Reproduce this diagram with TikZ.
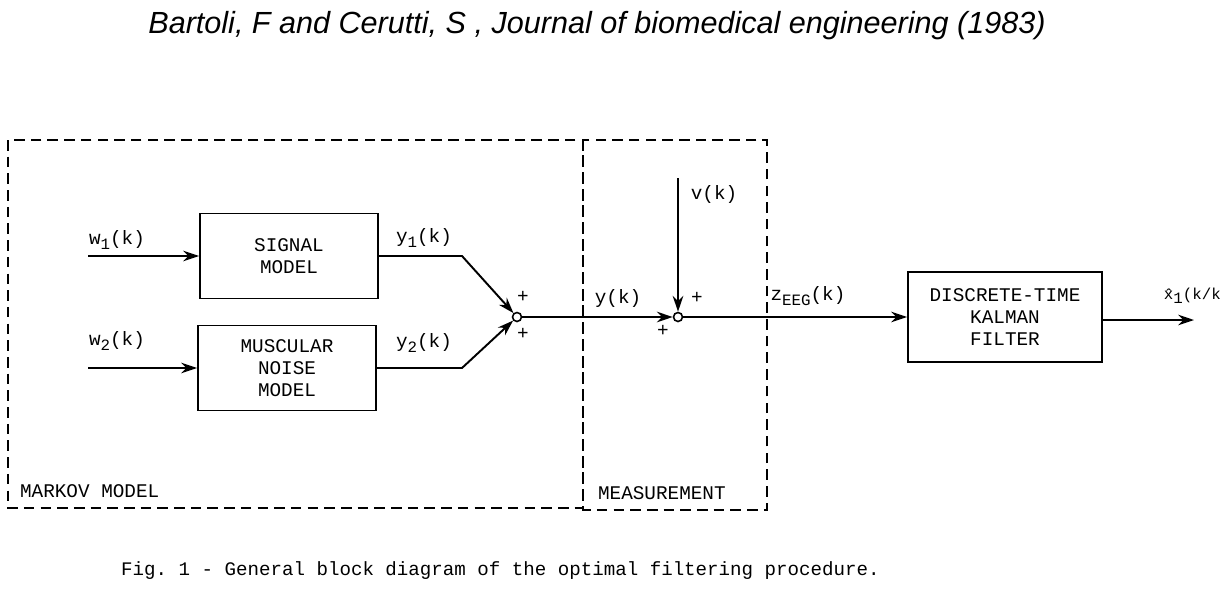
\documentclass[tikz,border=0pt]{standalone}
\usepackage{fontspec}
\setmainfont{Liberation Sans}
\setmonofont{Liberation Mono}
\usetikzlibrary{positioning,arrows.meta}
\newcommand\lowr[1]{\raisebox{-0.45ex}{\fontsize{9}{10}\selectfont #1}}
\newcommand\tw{\ttfamily\fontsize{11}{12.5}\selectfont}

\begin{document}
\begin{tikzpicture}[x=0.02cm,y=-0.02cm,
    block/.style={draw,line width=1.1pt,minimum width=3.56cm,minimum height=1.7cm,align=center,font=\tw},
    junc/.style={draw,circle,line width=0.9pt,inner sep=0pt,minimum size=0.18cm},
    zone/.style={line width=1.1pt,dash pattern=on 6pt off 3.5pt},
    lbl/.style={font=\tw,inner sep=1pt},
    flow/.style={line width=1.1pt,-{Stealth[length=9pt,width=6pt]}}]
    \useasboundingbox (0,0) rectangle (1224,599);
    % title and caption
    \node (title) at (597,26) {\fontsize{17.4}{20}\selectfont\itshape Bartoli, F and Cerutti, S , Journal of biomedical engineering (1983)};
    \node[anchor=west,font=\ttfamily\fontsize{10.9}{12}\selectfont] (caption) at (115,571) {Fig. 1 - General block diagram of the optimal filtering procedure.};
    % dashed regions
    \draw[zone] (8,140) rectangle (583,508);
    \draw[zone] (583,140) rectangle (767,510);
    \node[lbl,anchor=west] (markov) at (18,491) {MARKOV MODEL};
    \node[lbl,anchor=west] (meas) at (596,493) {MEASUREMENT};
    % blocks
    \node[block] (sig) at (289,256) {SIGNAL\\MODEL};
    \node[block] (mus) at (287,368) {MUSCULAR\\NOISE\\MODEL};
    \node[block,minimum width=3.88cm,minimum height=1.8cm] (kal) at (1005,317) {DISCRETE-TIME\\KALMAN\\FILTER};
    \node[junc] (sum1) at (517,317) {};
    \node[junc] (sum2) at (678,317) {};
    \coordinate (in1) at (88,256);
    \coordinate (in2) at (88,368);
    \coordinate (bend1) at (462,256);
    \coordinate (bend2) at (462,368);
    \coordinate (vin) at (678,178);
    \coordinate (out) at (1194,320);
    % connectors
    \draw[flow] (in1) -- (sig);
    \draw[flow] (in2) -- (mus);
    \draw[flow] (sig.east) -- (bend1) -- (sum1);
    \draw[flow] (mus.east) -- (bend2) -- (sum1);
    \draw[flow] (sum1) -- (sum2);
    \draw[flow] (vin) -- (sum2);
    \draw[flow] (sum2) -- (kal);
    \draw[flow] (kal.east |- out) -- (out);
    % signal labels
    \node[lbl] (w1) at (117,240) {w\lowr{1}(k)};
    \node[lbl] (w2) at (117,341) {w\lowr{2}(k)};
    \node[lbl] (y1) at (424,238) {y\lowr{1}(k)};
    \node[lbl] (y2) at (424,343) {y\lowr{2}(k)};
    \node[lbl] (y) at (618,298) {y(k)};
    \node[lbl] (v) at (714,194) {v(k)};
    \node[lbl] (z) at (808,296) {z\lowr{EEG}(k)};
    \node[lbl,anchor=east,font=\ttfamily\fontsize{9}{10}\selectfont] (xh) at (1223,296) {\^{x}\lowr{1}(k/k};
    \node[lbl] (p1) at (523,297) {+};
    \node[lbl] (p2) at (523,334) {+};
    \node[lbl] (p3) at (697,298) {+};
    \node[lbl] (p4) at (663,331) {+};
\end{tikzpicture}
\end{document}
